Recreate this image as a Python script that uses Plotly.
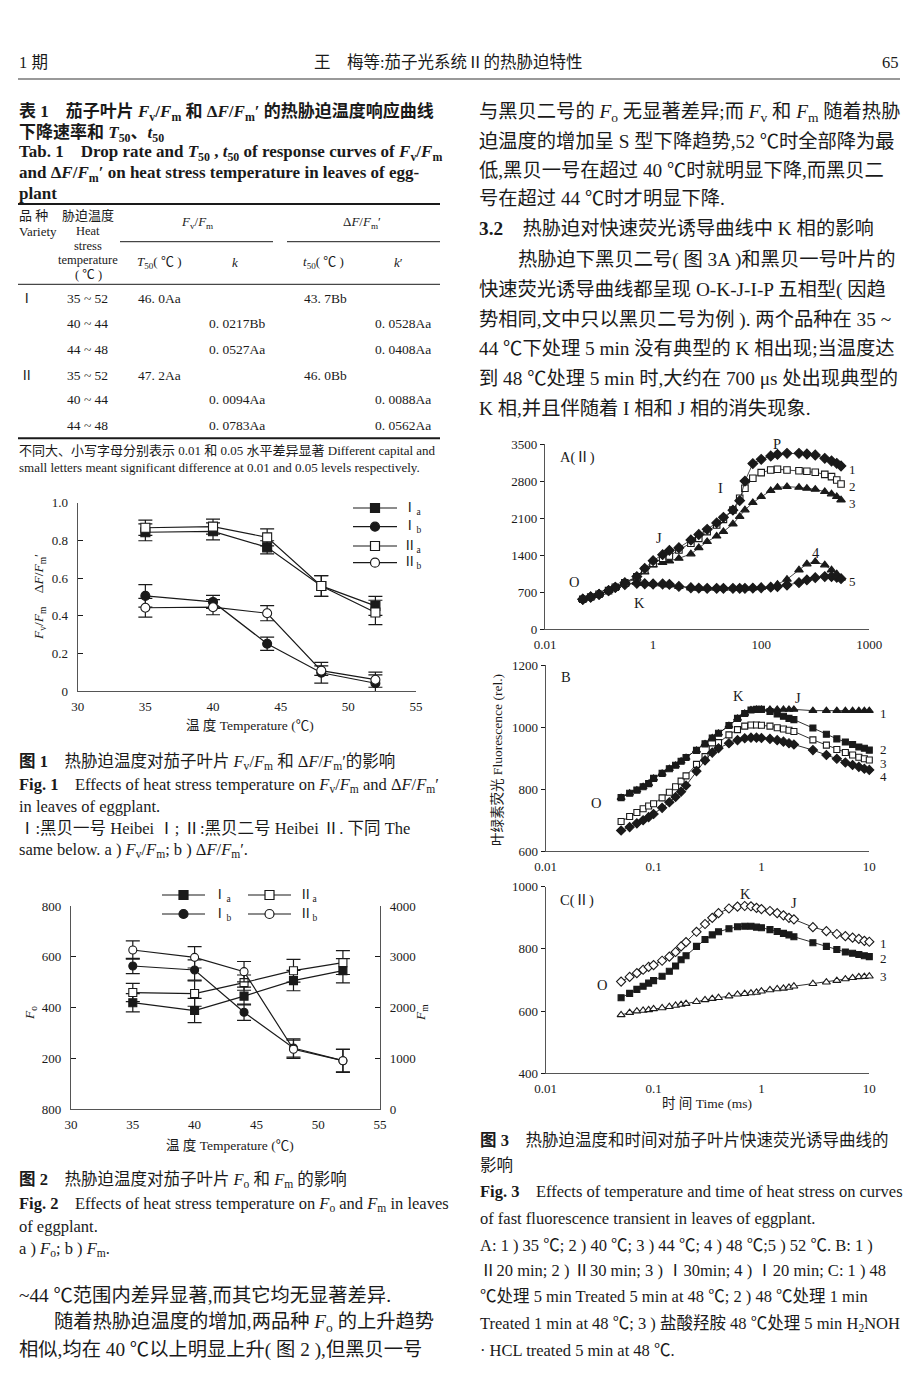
import plotly.graph_objects as go

# page size in the browser window and the body margin of the html page
PAGE_W, PAGE_H, OFF = 920, 1378, 8
W, H = PAGE_W - OFF, PAGE_H - OFF
FONT = "Liberation Serif, Noto Sans CJK SC, serif"
INK = "#1a1a1a"

# ---------------- data ----------------
temps = [35, 40, 44, 48, 52]
# Fig.1  Fv/Fm (a) and dF/Fm' (b)
fvfm_I = [0.843, 0.848, 0.763, 0.558, 0.452]
fvfm_I_err = [0.045, 0.045, 0.035, 0.055, 0.05]
dffm_I = [0.505, 0.473, 0.251, 0.097, 0.041]
dffm_I_err = [0.06, 0.035, 0.035, 0.055, 0.045]
fvfm_II = [0.867, 0.873, 0.816, 0.558, 0.417]
fvfm_II_err = [0.04, 0.04, 0.045, 0.055, 0.065]
dffm_II = [0.442, 0.445, 0.413, 0.108, 0.06]
dffm_II_err = [0.05, 0.04, 0.04, 0.025, 0.04]

# Fig.2  Fo (left axis) and Fm (right axis)
fo_I = [419, 388, 445, 506, 545]
fo_I_err = [36, 48, 35, 40, 48]
fo_II = [459, 455, 498, 545, 577]
fo_II_err = [36, 50, 30, 45, 47]
fm_I = [2818, 2739, 1905, 1202, 952]
fm_I_err = [150, 200, 160, 180, 220]
fm_II = [3133, 2988, 2706, 1176, 952]
fm_II_err = [180, 210, 200, 180, 230]

# Fig.3A  (time axis as drawn)
times_A = [0.05, 0.07, 0.1, 0.15, 0.2, 0.3, 0.5, 0.7, 1, 1.5, 2, 3, 5, 7, 10, 15, 20, 30, 40,
           50, 70, 100, 150, 200, 300, 500, 700, 1000, 1500, 2000, 2500, 3000]
A1 = [567, 610, 661, 730, 793, 880, 995, 1150, 1297, 1410, 1490, 1540, 1687, 1790, 1888, 2010, 2115,
      2250, 2430, 2800, 3130, 3210, 3273, 3305, 3324, 3324, 3311, 3292, 3229, 3179, 3135, 3085]
A2 = [567, 610, 661, 730, 793, 880, 990, 1120, 1246, 1341, 1385, 1498, 1624, 1718, 1844, 1970, 2077,
      2254, 2474, 2663, 2852, 2959, 3009, 3022, 3009, 2996, 2984, 2965, 2927, 2883, 2820, 2745]
A3 = [567, 610, 661, 730, 793, 870, 963, 1080, 1215, 1260, 1290, 1340, 1423, 1540, 1656, 1760, 1844,
      1989, 2130, 2254, 2392, 2505, 2620, 2681, 2694, 2681, 2663, 2644, 2600, 2556, 2505, 2442]
A4 = [567, 610, 661, 730, 793, 850, 881, 865, 856, 856, 837, 806, 780, 774, 774, 774, 774,
      774, 774, 774, 780, 790, 806, 850, 944, 1120, 1234, 1278, 1215, 1120, 1045, 963]
A5 = [567, 610, 661, 730, 793, 845, 869, 860, 856, 856, 850, 810, 785, 778, 774, 774, 774,
      774, 774, 774, 778, 785, 795, 806, 837, 881, 932, 975, 995, 995, 981, 957]

# Fig.3B / 3C
times_BC = [0.05, 0.06, 0.07, 0.08, 0.09, 0.1, 0.12, 0.14, 0.16, 0.18, 0.2, 0.25, 0.3, 0.35, 0.4,
            0.5, 0.6, 0.7, 0.8, 0.9, 1.0, 1.2, 1.4, 1.6, 1.8, 2, 3, 4, 5, 6, 7, 8, 9, 10]
B1 = [773, 787, 797, 808, 818, 835, 851, 866, 877, 890, 902, 925, 946, 965, 980, 1005, 1028, 1044,
      1055, 1057, 1057, 1057, 1057, 1057, 1057, 1057, 1053, 1053, 1053, 1053, 1053, 1053, 1053, 1053]
B2 = [773, 787, 797, 808, 818, 835, 851, 866, 877, 890, 902, 925, 946, 965, 980, 1005, 1028, 1044,
      1055, 1057, 1057, 1050, 1042, 1035, 1028, 1024, 997, 977, 962, 952, 944, 936, 932, 926]
B3 = [696, 712, 725, 737, 746, 753, 772, 790, 808, 826, 843, 880, 905, 930, 950, 975, 992, 1003,
      1007, 1007, 1006, 1003, 998, 994, 990, 986, 959, 942, 928, 918, 910, 903, 898, 894]
B4 = [667, 678, 690, 700, 710, 720, 740, 758, 775, 792, 812, 858, 893, 918, 932, 948, 958, 964,
      966, 966, 965, 962, 958, 953, 948, 944, 926, 910, 898, 886, 878, 872, 866, 862]
C1 = [695, 710, 722, 733, 742, 748, 762, 775, 790, 808, 822, 855, 880, 900, 915, 930, 936, 938,
      937, 932, 928, 922, 915, 908, 900, 895, 870, 857, 848, 841, 836, 832, 826, 823]
C2 = [643, 657, 670, 680, 690, 698, 712, 728, 745, 765, 778, 808, 830, 845, 855, 865, 871, 873,
      873, 870, 868, 862, 856, 850, 845, 839, 820, 808, 798, 790, 786, 782, 778, 775]
C3 = [588, 595, 600, 602, 604, 607, 610, 614, 618, 621, 624, 630, 636, 640, 643, 648, 654, 656,
      658, 660, 664, 668, 671, 673, 676, 680, 688, 693, 698, 703, 707, 710, 711, 712]

# tick labels
f1_xticks = [30, 35, 40, 45, 50, 55]
f1_yticks = [0, 0.2, 0.4, 0.6, 0.8, 1.0]
f1_yticktext = ["0", "0.2", "0.4", "0.6", "0.8", "1.0"]
f2_yticks = [0, 200, 400, 600, 800]
f2_yticktext = ["800", "200", "400", "600", "800"]
f2_y2ticks = [0, 1000, 2000, 3000, 4000]
fA_xticks = [0.01, 1, 100, 10000]
fA_xticktext = ["0.01", "1", "100", "1000"]
fA_yticks = [0, 700, 1400, 2100, 2800, 3500]
fBC_xticks = [0.01, 0.1, 1, 10]
fBC_xticktext = ["0.01", "0.1", "1", "10"]
fB_yticks = [600, 800, 1000, 1200]
fC_yticks = [400, 600, 800, 1000]

table_rows = [
    ("Ⅰ", "35 ~ 52", "46. 0Aa", "", "43. 7Bb", ""),
    ("", "40 ~ 44", "", "0. 0217Bb", "", "0. 0528Aa"),
    ("", "44 ~ 48", "", "0. 0527Aa", "", "0. 0408Aa"),
    ("Ⅱ", "35 ~ 52", "47. 2Aa", "", "46. 0Bb", ""),
    ("", "40 ~ 44", "", "0. 0094Aa", "", "0. 0088Aa"),
    ("", "44 ~ 48", "", "0. 0783Aa", "", "0. 0562Aa"),
]

# ---------------- helpers ----------------
def X(p):
    return (p - OFF) / W


def Y(p):
    return 1 - (p - OFF) / H


ann = []
shapes = []


def T(x, y, s, size=15, anchor="left", angle=0):
    ann.append(dict(x=X(x), y=Y(y), xref="paper", yref="paper", text=s, showarrow=False,
                    xanchor=anchor, yanchor="middle", textangle=angle, borderpad=0,
                    font=dict(size=size, family=FONT, color=INK)))


def hline(x0, x1, y, w=1, color=INK):
    shapes.append(dict(type="line", xref="paper", yref="paper", x0=X(x0), x1=X(x1),
                       y0=Y(y), y1=Y(y), line=dict(color=color, width=w)))


def legend_item(x0, x1, y, symbol, filled):
    hline(x0, x1, y, 1.2)
    cx = (x0 + x1) / 2
    r = 4.5
    kind = "rect" if symbol == "square" else "circle"
    shapes.append(dict(type=kind, xref="paper", yref="paper", x0=X(cx - r), x1=X(cx + r),
                       y0=Y(y + r), y1=Y(y - r), fillcolor=INK if filled else "white",
                       line=dict(color=INK, width=1.2)))


fig = go.Figure()


def series(x, y, xa, ya, symbol, filled, size=9, err=None, mode="lines+markers", lw=1.2):
    d = dict(x=x, y=y, xaxis=xa, yaxis=ya, mode=mode, showlegend=False, cliponaxis=False,
             marker=dict(symbol=symbol, size=size, color=INK if filled else "white",
                         line=dict(color=INK, width=1.1)),
             line=dict(color=INK, width=lw))
    if err is not None:
        d["error_y"] = dict(type="data", array=err, color=INK, thickness=1.2, width=7)
    fig.add_trace(go.Scatter(**d))


# Fig 1
series(temps, fvfm_I, "x", "y", "square", True, err=fvfm_I_err)
series(temps, dffm_I, "x", "y", "circle", True, err=dffm_I_err)
series(temps, fvfm_II, "x", "y", "square", False, err=fvfm_II_err)
series(temps, dffm_II, "x", "y", "circle", False, err=dffm_II_err)
# Fig 2
series(temps, fo_I, "x2", "y2", "square", True, size=8, err=fo_I_err)
series(temps, fo_II, "x2", "y2", "square", False, size=8, err=fo_II_err)
series(temps, fm_I, "x2", "y3", "circle", True, size=8, err=fm_I_err)
series(temps, fm_II, "x2", "y3", "circle", False, size=8, err=fm_II_err)
# Fig 3A
series(times_A, A5, "x4", "y4", "diamond", True, size=7.5, lw=0.8)
series(times_A, A4, "x4", "y4", "triangle-up", True, size=7.5, lw=0.8)
series(times_A, A3, "x4", "y4", "triangle-up", True, size=7.5, lw=0.8)
series(times_A, A2, "x4", "y4", "square", False, size=6.5, lw=0.8)
series(times_A, A1, "x4", "y4", "diamond", True, size=7.5, lw=0.8)
# Fig 3B
series(times_BC, B1, "x5", "y5", "triangle-up", True, size=7, lw=0.9)
series(times_BC, B2, "x5", "y5", "square", True, size=6, lw=0.9)
series(times_BC, B3, "x5", "y5", "square", False, size=6, lw=0.9)
series(times_BC, B4, "x5", "y5", "diamond", True, size=7, lw=0.9)
# Fig 3C
series(times_BC, C1, "x6", "y6", "diamond", False, size=7, lw=0.9)
series(times_BC, C2, "x6", "y6", "square", True, size=6, lw=0.9)
series(times_BC, C3, "x6", "y6", "triangle-up", False, size=7, lw=0.9)

AX = dict(showline=True, linecolor="#555", linewidth=1.3, showgrid=False, zeroline=False,
          automargin=False,
          tickfont=dict(size=13, family=FONT, color=INK), tickcolor=INK, ticklen=5, mirror=False)


def xax(d0, d1, anchor, **kw):
    a = dict(AX, domain=[X(d0), X(d1)], anchor=anchor, ticks="", ticklabelstandoff=3)
    a.update(kw)
    return a


def yax(t, b, anchor, **kw):
    a = dict(AX, domain=[Y(b), Y(t)], anchor=anchor)
    a.update(kw)
    return a


layout = dict(
    width=W, height=H, margin=dict(l=0, r=0, t=0, b=0, pad=0, autoexpand=False),
    paper_bgcolor="white", plot_bgcolor="white", showlegend=False,
    xaxis=xax(77.7, 416, "y", range=[30, 55], tickvals=f1_xticks),
    yaxis=yax(502.7, 691, "x", range=[0, 1], tickvals=f1_yticks, ticktext=f1_yticktext,
              ticks="inside", ticklabelstandoff=6),
    xaxis2=xax(71, 380, "y2", range=[30, 55], tickvals=f1_xticks),
    yaxis2=yax(906, 1109, "x2", range=[0, 800], tickvals=f2_yticks, ticktext=f2_yticktext,
               ticks="inside", ticklabelstandoff=6),
    yaxis3=dict(AX, overlaying="y2", side="right", anchor="x2", range=[0, 4000],
                tickvals=f2_y2ticks, ticks="inside", ticklabelstandoff=6),
    xaxis4=xax(545, 869.3, "y4", type="log", range=[-2, 4], tickvals=fA_xticks,
               ticktext=fA_xticktext),
    yaxis4=yax(444, 629.3, "x4", range=[0, 3500], tickvals=fA_yticks, ticks="outside", ticklen=4),
    xaxis5=xax(545.7, 869.3, "y5", type="log", range=[-2, 1], tickvals=fBC_xticks,
               ticktext=fBC_xticktext),
    yaxis5=yax(665, 851.3, "x5", range=[600, 1200], tickvals=fB_yticks, ticks="outside", ticklen=4),
    xaxis6=xax(545.7, 869.3, "y6", type="log", range=[-2, 1], tickvals=fBC_xticks,
               ticktext=fBC_xticktext),
    yaxis6=yax(886.7, 1073.3, "x6", range=[400, 1000], tickvals=fC_yticks, ticks="outside",
               ticklen=4),
)

# ---------------- page text ----------------
Fv = "<i>F</i><sub>v</sub>"
Fm = "<i>F</i><sub>m</sub>"
Fo = "<i>F</i><sub>o</sub>"
dF = "Δ<i>F</i>/<i>F</i><sub>m</sub>′"
BODY = 19.3
CAP = 16.5
TIT = 17

# header
T(18, 62, "1 期", 16.5)
T(313, 62, "王　梅等:茄子光系统Ⅱ的热胁迫特性", 16.5)
T(900, 62, "65", 16.5, anchor="right")
hline(18, 900, 79, 1.6, "#777")

# table title
T(18, 113, "<b>表 1　茄子叶片 " + Fv + "/" + Fm + " 和 " + dF + " 的热胁迫温度响应曲线</b>", TIT)
T(18, 133, "<b>下降速率和 <i>T</i><sub>50</sub>、<i>t</i><sub>50</sub></b>", TIT)
T(18, 153, "<b>Tab. 1　Drop rate and <i>T</i><sub>50</sub> , <i>t</i><sub>50</sub> of response curves of "
   + Fv + "/" + Fm + "</b>", TIT)
T(18, 174, "<b>and " + dF + " on heat stress temperature in leaves of egg-</b>", TIT)
T(18, 193, "<b>plant</b>", TIT)
hline(18, 440, 204, 2)

# table header
T(18, 215, "品 种", 13)
T(18, 231, "Variety", 13)
T(88, 215, "胁迫温度", 13, anchor="center")
T(88, 231, "Heat", 12.5, anchor="center")
T(88, 246, "stress", 12.5, anchor="center")
T(88, 260, "temperature", 12.5, anchor="center")
T(88, 275, "( ℃ )", 12.5, anchor="center")
T(197, 223, Fv + "/" + Fm, 13, anchor="center")
T(362, 223, dF, 13, anchor="center")
hline(120, 273, 241.7, 1)
hline(287, 440, 241.7, 1)
T(159, 262.5, "<i>T</i><sub>50</sub>( ℃ )", 13, anchor="center")
T(235, 262.5, "<i>k</i>", 13, anchor="center")
T(323, 262.5, "<i>t</i><sub>50</sub>( ℃ )", 13, anchor="center")
T(398, 262.5, "<i>k</i>′", 13, anchor="center")
hline(18, 440, 284.3, 1)
row_y = [298.3, 324, 349.3, 375, 400, 425.7]
for ry, r in zip(row_y, table_rows):
    if r[0]:
        T(19, ry, r[0], 13.5)
    T(87, ry, r[1], 13.5, anchor="center")
    if r[2]:
        T(137, ry, r[2], 13.5)
    if r[3]:
        T(208, ry, r[3], 13.5)
    if r[4]:
        T(303, ry, r[4], 13.5)
    if r[5]:
        T(374, ry, r[5], 13.5)
hline(18, 440, 438.3, 2)
T(18, 450, "不同大、小写字母分别表示 0.01 和 0.05 水平差异显著 Different capital and", 13)
T(18, 467.3, "small letters meant significant difference at 0.01 and 0.05 levels respectively.", 13)

# right column body text
body_r = [
    (478, 113.3, "与黑贝二号的 " + Fo + " 无显著差异;而 " + Fv + " 和 " + Fm + " 随着热胁"),
    (478, 141.7, "迫温度的增加呈 S 型下降趋势,52 ℃时全部降为最"),
    (478, 170, "低,黑贝一号在超过 40 ℃时就明显下降,而黑贝二"),
    (478, 198.3, "号在超过 44 ℃时才明显下降."),
    (478, 228.3, "<b>3.2</b>　热胁迫对快速荧光诱导曲线中 K 相的影响"),
    (517, 260, "热胁迫下黑贝二号( 图 3A )和黑贝一号叶片的"),
    (478, 290, "快速荧光诱导曲线都呈现 O-K-J-I-P 五相型( 因趋"),
    (478, 320, "势相同,文中只以黑贝二号为例 ). 两个品种在 35 ~"),
    (478, 348.3, "44 ℃下处理 5 min 没有典型的 K 相出现;当温度达"),
    (478, 378.3, "到 48 ℃处理 5 min 时,大约在 700 μs 处出现典型的"),
    (478, 408.3, "K 相,并且伴随着 I 相和 J 相的消失现象."),
]
for x, y, s in body_r:
    T(x, y, s, BODY)

# Fig 1 annotations
T(250, 725, "温 度 Temperature (℃)", 13.5, anchor="center")
T(40, 597, Fv + "/" + Fm + "　" + dF, 13.5, anchor="center", angle=-90)
for (yy, sym, fill, lab) in [(508, "square", True, "Ⅰ<sub>a</sub>"), (526.7, "circle", True, "Ⅰ<sub>b</sub>"),
                             (546, "square", False, "Ⅱ<sub>a</sub>"), (562.7, "circle", False, "Ⅱ<sub>b</sub>")]:
    legend_item(353, 397, yy, sym, fill)
    T(402, yy, lab, 13.5)

cap1 = [
    (761.7, "<b>图 1</b>　热胁迫温度对茄子叶片 " + Fv + "/" + Fm + " 和 " + dF + "的影响"),
    (785, "<b>Fig. 1</b>　Effects of heat stress temperature on " + Fv + "/" + Fm + " and " + dF),
    (806, "in leaves of eggplant."),
    (828.3, "Ⅰ:黑贝一号 Heibei Ⅰ; Ⅱ:黑贝二号 Heibei Ⅱ. 下同 The"),
    (850, "same below. a ) " + Fv + "/" + Fm + "; b ) " + dF + "."),
]
for y, s in cap1:
    T(18, y, s, CAP)

# Fig 2 annotations
for (xx, yy, sym, fill, lab) in [(162, 895, "square", True, "Ⅰ<sub>a</sub>"),
                                 (162, 914, "circle", True, "Ⅰ<sub>b</sub>"),
                                 (248, 895, "square", False, "Ⅱ<sub>a</sub>"),
                                 (248, 914, "circle", False, "Ⅱ<sub>b</sub>")]:
    legend_item(xx, xx + 43, yy, sym, fill)
    T(xx + 50, yy, lab, 13.5)
T(230, 1145, "温 度 Temperature (℃)", 13.5, anchor="center")
T(30, 1013, Fo, 13.5, anchor="center", angle=-90)
T(421, 1013, Fm, 13.5, anchor="center", angle=-90)

cap2 = [
    (18, 1180, "<b>图 2</b>　热胁迫温度对茄子叶片 " + Fo + " 和 " + Fm + " 的影响", CAP),
    (18, 1204, "<b>Fig. 2</b>　Effects of heat stress temperature on " + Fo + " and " + Fm + " in leaves", CAP),
    (18, 1226.7, "of eggplant.", CAP),
    (18, 1249.3, "a ) " + Fo + "; b ) " + Fm + ".", CAP),
    (18, 1295, "~44 ℃范围内差异显著,而其它均无显著差异.", BODY),
    (53, 1323.3, "随着热胁迫温度的增加,两品种 " + Fo + " 的上升趋势", BODY),
    (18, 1350, "相似,均在 40 ℃以上明显上升( 图 2 ),但黑贝一号", BODY),
]
for x, y, s, sz in cap2:
    T(x, y, s, sz)

# Fig 3 labels
for x, y, s in [(577, 457, "A(Ⅱ)"), (777, 444, "P"), (720, 488, "I"), (659, 538, "J"),
                (574, 582, "O"), (639, 603, "K"), (816, 553, "4"),
                (566, 677, "B"), (738, 696, "K"), (798, 698, "J"), (596, 803, "O"),
                (577, 900, "C(Ⅱ)"), (745, 894, "K"), (794, 903, "J"), (602, 985, "O")]:
    T(x, y, s, 14.5, anchor="center")
for x, y, s in [(852, 469, "1"), (852, 487, "2"), (852, 503, "3"), (852, 581, "5"),
                (883, 713, "1"), (883, 749, "2"), (883, 763, "3"), (883, 776, "4"),
                (883, 943, "1"), (883, 958, "2"), (883, 977, "3")]:
    T(x, y, s, 13, anchor="center")
T(497, 760, "叶绿素荧光 Fluorescence (rel.)", 13.5, anchor="center", angle=-90)
T(707, 1103, "时 间 Time (ms)", 13.5, anchor="center")

cap3 = [
    (1140, "<b>图 3</b>　热胁迫温度和时间对茄子叶片快速荧光诱导曲线的"),
    (1165, "影响"),
    (1191.7, "<b>Fig. 3</b>　Effects of temperature and time of heat stress on curves"),
    (1218.3, "of fast fluorescence transient in leaves of eggplant."),
    (1245, "A: 1 ) 35 ℃; 2 ) 40 ℃; 3 ) 44 ℃; 4 ) 48 ℃;5 ) 52 ℃. B: 1 )"),
    (1270.7, "Ⅱ20 min; 2 ) Ⅱ30 min; 3 ) Ⅰ30min; 4 ) Ⅰ20 min; C: 1 ) 48"),
    (1296.7, "℃处理 5 min Treated 5 min at 48 ℃; 2 ) 48 ℃处理 1 min"),
    (1324, "Treated 1 min at 48 ℃; 3 ) 盐酸羟胺 48 ℃处理 5 min H<sub>2</sub>NOH"),
    (1350, "· HCL treated 5 min at 48 ℃."),
]
for y, s in cap3:
    T(479, y, s, CAP)

layout["annotations"] = ann
layout["shapes"] = shapes
fig.update_layout(**layout)
fig.write_html("out.html")
